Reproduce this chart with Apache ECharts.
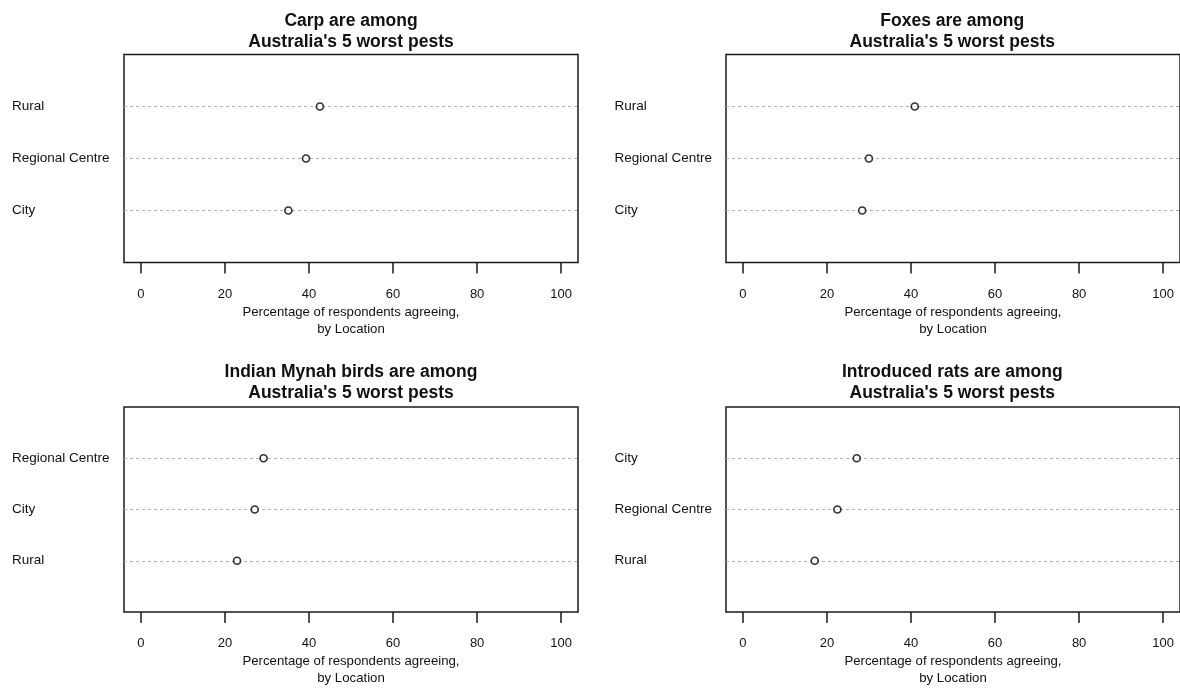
<!DOCTYPE html>
<html>
<head>
<meta charset="utf-8">
<script src="https://cdn.jsdelivr.net/npm/echarts@6/dist/echarts.min.js"></script>
<style>
html,body{margin:0;padding:0;background:#fff;}
#chart{width:1180px;height:688px;}
</style>
</head>
<body>
<div id="chart"></div>
<script>
// ---- Data (rows listed bottom to top, as in the dot charts) ----
const titles = [
  "Carp are among\nAustralia's 5 worst pests",
  "Foxes are among\nAustralia's 5 worst pests",
  "Indian Mynah birds are among\nAustralia's 5 worst pests",
  "Introduced rats are among\nAustralia's 5 worst pests"
];
const carpCats  = ['City', 'Regional Centre', 'Rural'];
const carpVals  = [35.1, 39.3, 42.6];
const foxCats   = ['City', 'Regional Centre', 'Rural'];
const foxVals   = [28.4, 30.0, 40.9];
const mynahCats = ['Rural', 'City', 'Regional Centre'];
const mynahVals = [22.9, 27.1, 29.2];
const ratCats   = ['Rural', 'Regional Centre', 'City'];
const ratVals   = [17.1, 22.5, 27.1];
const xTicks    = [0, 20, 40, 60, 80, 100];
const xTitle    = 'Percentage of respondents agreeing,\nby Location';

const panels = [
  {cats: carpCats,  vals: carpVals},
  {cats: foxCats,   vals: foxVals},
  {cats: mynahCats, vals: mynahVals},
  {cats: ratCats,   vals: ratVals}
];

// ---- Layout ----
const FONT = "'Liberation Sans', Arial, sans-serif";
const TXT = '#111';
const grids = [
  {left: 124, top: 54.5, width: 454, height: 208},
  {left: 726, top: 54.5, width: 455.5, height: 208},
  {left: 124, top: 407, width: 454, height: 208.5},
  {left: 726, top: 407, width: 455.5, height: 208.5}
];
const titleTops = [11, 11, 361.5, 361.5];

const option = {
  backgroundColor: '#fff',
  animation: false,
  title: grids.map((g, i) => ({
    text: titles[i],
    left: g.left + g.width / 2 - (i % 2 === 1 ? 1.5 : 0),
    top: titleTops[i],
    textAlign: 'center',
    padding: 0,
    textStyle: {fontFamily: FONT, fontSize: 17.5, fontWeight: 'bold', color: TXT, lineHeight: 21}
  })),
  grid: grids.map(g => Object.assign({
    show: true, borderColor: '#1a1a1a', borderWidth: 1.5, backgroundColor: 'transparent',
    containLabel: false
  }, g)),
  xAxis: grids.map((g, i) => ({
    type: 'value', gridIndex: i, min: -4, max: 104,
    axisLine: {show: false},
    splitLine: {show: false},
    axisTick: {show: true, customValues: xTicks, length: 11, inside: false,
      lineStyle: {color: '#1a1a1a', width: 1.5}},
    axisLabel: {show: true, customValues: xTicks, margin: 25,
      fontFamily: FONT, fontSize: 13, color: TXT},
    name: xTitle, nameLocation: 'middle', nameGap: 41,
    nameTextStyle: {fontFamily: FONT, fontSize: 13.2, color: TXT, lineHeight: 17}
  })),
  yAxis: panels.map((p, i) => ({
    type: 'value', gridIndex: i, min: 0, max: 4,
    axisLine: {show: false}, axisTick: {show: false}, splitLine: {show: false},
    axisLabel: {show: true, customValues: [1, 2, 3], align: 'left',
      margin: i % 2 === 0 ? 112 : 111.5,
      padding: [5, 0, 0, 0],
      fontFamily: FONT, fontSize: 13.5, color: TXT,
      formatter: v => p.cats[Math.round(v) - 1] || ''}
  })),
  series: []
};

panels.forEach((p, i) => {
  const data = p.vals.map((v, k) => [v, k + 1]);
  option.series.push({
    type: 'scatter', xAxisIndex: i, yAxisIndex: i, z: 1, silent: true,
    data: data, symbolSize: 0, itemStyle: {opacity: 0},
    markLine: {
      silent: true, symbol: ['none', 'none'], label: {show: false},
      lineStyle: {type: [3, 3], color: '#b0b0b0', width: 1},
      animation: false,
      data: p.cats.map((c, k) => ({yAxis: k + 1}))
    }
  });
  option.series.push({
    type: 'scatter', xAxisIndex: i, yAxisIndex: i, z: 5,
    data: data, symbol: 'circle', symbolSize: 7,
    itemStyle: {color: '#fff', borderColor: '#000', borderWidth: 1.7}
  });
});

const chart = echarts.init(document.getElementById('chart'), null, {renderer: 'canvas'});
chart.setOption(option);
</script>
</body>
</html>
